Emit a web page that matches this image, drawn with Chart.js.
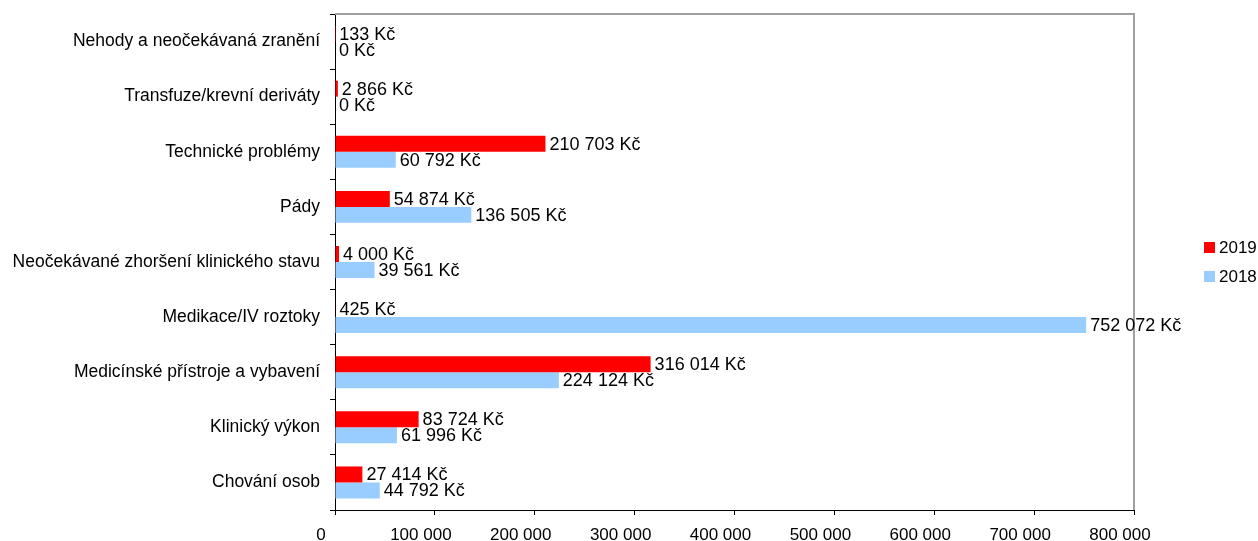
<!DOCTYPE html>
<html lang="cs">
  <head>
    <meta charset="utf-8">
    <title>Náklady podle kategorie</title>
    <script src="https://cdnjs.cloudflare.com/ajax/libs/Chart.js/4.4.1/chart.umd.min.js"></script>
    <style>
      body { margin: 0; background: #fff; }
    </style>
  </head>
  <body>
    <canvas id="myChart" width="1258" height="541"></canvas>
    <script>
      // categories, top to bottom
      const categories = [
        'Nehody a neočekávaná zranění',
        'Transfuze/krevní deriváty',
        'Technické problémy',
        'Pády',
        'Neočekávané zhoršení klinického stavu',
        'Medikace/IV roztoky',
        'Medicínské přístroje a vybavení',
        'Klinický výkon',
        'Chování osob'
      ];
      const values2019 = [133, 2866, 210703, 54874, 4000, 425, 316014, 83724, 27414];
      const values2018 = [0, 0, 60792, 136505, 39561, 752072, 224124, 61996, 44792];
      const seriesNames = ['2019', '2018'];
      const seriesColors = ['#ff0000', '#99ccff'];
      const xTicks = [0, 100000, 200000, 300000, 400000, 500000, 600000, 700000, 800000];

      const FAMILY = '"Liberation Sans", Arial, sans-serif';
      const FONT = '18px ' + FAMILY;

      function fmt(v) {
        return String(v).replace(/\B(?=(\d{3})+(?!\d))/g, ' ');
      }

      // value labels right of each bar
      const barLabels = {
        id: 'barLabels',
        afterDatasetsDraw(chart) {
          const ctx = chart.ctx;
          ctx.save();
          ctx.font = FONT;
          ctx.fillStyle = '#000';
          ctx.textAlign = 'left';
          ctx.textBaseline = 'middle';
          chart.data.datasets.forEach((ds, i) => {
            chart.getDatasetMeta(i).data.forEach((el, j) => {
              ctx.fillText(fmt(ds.data[j]) + ' Kč', el.x + 4, el.y + 1);
            });
          });
          ctx.restore();
        }
      };

      // gray top/right frame + legend on the right
      const frameAndLegend = {
        id: 'frameAndLegend',
        beforeDatasetsDraw(chart) {
          const a = chart.chartArea;
          const ctx = chart.ctx;
          ctx.save();
          ctx.strokeStyle = '#a0a0a0';
          ctx.lineWidth = 2;
          ctx.beginPath();
          ctx.moveTo(a.left, a.top);
          ctx.lineTo(a.right, a.top);
          ctx.lineTo(a.right, a.bottom);
          ctx.stroke();
          ctx.restore();
        },
        afterDraw(chart) {
          const ctx = chart.ctx;
          ctx.save();
          ctx.font = '17px ' + FAMILY;
          ctx.textBaseline = 'middle';
          ctx.textAlign = 'left';
          seriesNames.forEach((name, i) => {
            const cy = 247.5 + i * 29;
            ctx.fillStyle = seriesColors[i];
            ctx.fillRect(1204, cy - 5.5, 11, 11);
            ctx.fillStyle = '#000';
            ctx.fillText(name, 1219, cy + 1);
          });
          ctx.restore();
        }
      };

      new Chart(document.getElementById('myChart'), {
        type: 'bar',
        data: {
          labels: categories,
          datasets: [
            { label: seriesNames[0], data: values2019, backgroundColor: seriesColors[0] },
            { label: seriesNames[1], data: values2018, backgroundColor: seriesColors[1] }
          ]
        },
        options: {
          indexAxis: 'y',
          responsive: false,
          animation: false,
          layout: { padding: { top: 14, right: 124, left: 0, bottom: 0 } },
          datasets: { bar: { categoryPercentage: 0.58, barPercentage: 1.0 } },
          plugins: {
            legend: { display: false },
            tooltip: { enabled: false }
          },
          scales: {
            x: {
              min: 0,
              max: 800000,
              afterBuildTicks(scale) { scale.ticks = xTicks.map(v => ({ value: v })); },
              afterFit(scale) { scale.height = 31; scale.paddingLeft = 0; scale.paddingRight = 0; },
              border: { display: true, color: '#000', width: 1 },
              grid: { drawOnChartArea: false, drawTicks: true, tickLength: 5, color: '#000' },
              ticks: {
                color: '#000',
                font: { family: FAMILY, size: 17 },
                padding: 10,
                labelOffset: -14,
                maxRotation: 0,
                callback: v => fmt(v)
              }
            },
            y: {
              afterFit(scale) { scale.width = 335; scale.paddingTop = 0; scale.paddingBottom = 0; },
              border: { display: true, color: '#000', width: 1 },
              grid: { offset: true, drawOnChartArea: false, drawTicks: true, tickLength: 5, color: '#000' },
              ticks: {
                color: '#000',
                font: { family: FAMILY, size: 17.5 },
                padding: 10
              }
            }
          }
        },
        plugins: [barLabels, frameAndLegend]
      });
    </script>
  </body>
</html>
